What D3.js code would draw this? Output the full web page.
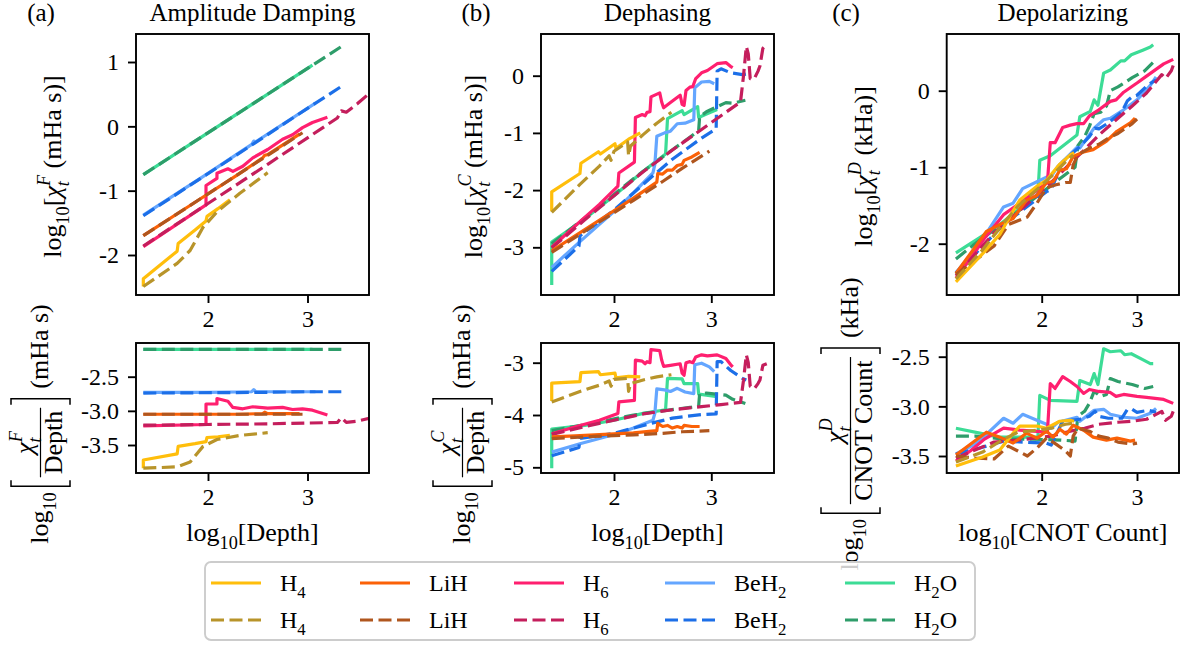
<!DOCTYPE html>
<html>
<head>
<meta charset="utf-8">
<script src="https://cdn.jsdelivr.net/npm/d3@7"></script>
<style>
  html, body { margin: 0; padding: 0; background: #fff; }
  #chart text { white-space: pre; fill: #000; }
</style>
</head>
<body>
<svg id="chart" width="1186" height="645" font-family="'Liberation Serif', 'DejaVu Serif', serif"></svg>
<script>
// ---------- series definitions ----------
const molecules = ["H4", "LiH", "H6", "BeH2", "H2O"];
const moleculeParts = [
  [{t: "H"}, {t: "4", k: "sub"}],
  [{t: "LiH"}],
  [{t: "H"}, {t: "6", k: "sub"}],
  [{t: "BeH"}, {t: "2", k: "sub"}],
  [{t: "H"}, {t: "2", k: "sub"}, {t: "O"}]
];
const solidColors  = ["#FFBE0B", "#FB6107", "#FF1F6F", "#64A6FF", "#3CDC96"];
const dashedColors = ["#B8942A", "#B0561E", "#C41E5C", "#1C6FE8", "#2E9D6A"];

// Values are [log10(depth or CNOT count), log10(chi_t / count)].
// Upper panels show log10(chi_t) = per-count value + log10(count).

// (a) Amplitude damping
const ampSolid = {
  H4:   [[1.35,-3.84],[1.35,-3.72],[1.69,-3.63],[1.7,-3.52],[1.87,-3.48],[1.98,-3.45],[1.99,-3.39],[2.1,-3.38],[2.22,-3.36]],
  LiH:  [[1.35,-3.05],[1.8,-3.05],[2.3,-3.05],[2.55,-3.04],[2.57,-3.02],[2.6,-3.04],[2.92,-3.04]],
  H6:   [[1.35,-3.22],[1.98,-3.2],[1.98,-2.9],[2.09,-2.9],[2.09,-2.82],[2.2,-2.86],[2.25,-2.95],[2.35,-2.97],[2.45,-2.94],[2.6,-2.96],[2.75,-2.95],[2.85,-2.98],[2.95,-2.97],[3.05,-2.99],[3.2,-3.06]],
  BeH2: [[1.35,-2.73],[2.0,-2.73],[2.44,-2.72],[2.46,-2.69],[2.48,-2.72],[3.08,-2.72]],
  H2O:  [[1.35,-2.1],[2.5,-2.1],[3.05,-2.1]]
};
const ampDashed = {
  H4:   [[1.35,-3.84],[1.69,-3.82],[1.82,-3.75],[1.95,-3.52],[2.09,-3.42],[2.32,-3.36],[2.6,-3.32]],
  LiH:  [[1.35,-3.05],[2.0,-3.05],[2.5,-3.05],[2.95,-3.05]],
  H6:   [[1.35,-3.21],[2.0,-3.2],[2.6,-3.19],[3.3,-3.17],[3.34,-3.1],[3.39,-3.17],[3.5,-3.15],[3.62,-3.11]],
  BeH2: [[1.35,-2.74],[2.5,-2.73],[3.0,-2.72],[3.36,-2.72]],
  H2O:  [[1.35,-2.1],[2.5,-2.1],[3.0,-2.1],[3.36,-2.1]]
};

// (b) Dephasing
const dephSolid = {
  H4:   [[1.36,-3.73],[1.36,-3.39],[1.65,-3.36],[1.66,-3.19],[1.84,-3.17],[1.86,-3.23],[2.01,-3.2],[2.02,-3.29],[2.15,-3.26],[2.27,-3.27]],
  LiH:  [[1.36,-4.42],[1.6,-4.4],[1.9,-4.37],[2.2,-4.34],[2.44,-4.3],[2.45,-4.16],[2.5,-4.22],[2.55,-4.2],[2.6,-4.25],[2.65,-4.22],[2.7,-4.25],[2.72,-4.2],[2.8,-4.22],[2.88,-4.22]],
  H6:   [[1.36,-4.36],[1.65,-4.2],[1.85,-4.1],[2.04,-3.97],[2.05,-3.75],[2.21,-3.72],[2.22,-2.95],[2.29,-2.97],[2.32,-3.02],[2.34,-2.98],[2.37,-3.0],[2.38,-2.75],[2.47,-2.77],[2.49,-2.95],[2.51,-3.07],[2.58,-3.05],[2.68,-3.02],[2.7,-3.2],[2.72,-3.24],[2.74,-3.0],[2.78,-2.98],[2.81,-3.0],[2.84,-2.89],[2.9,-2.85],[2.96,-2.87],[3.06,-2.85],[3.15,-2.92],[3.2,-3.04],[3.22,-3.08]],
  BeH2: [[1.36,-4.71],[1.65,-4.55],[1.85,-4.45],[2.05,-4.35],[2.2,-4.25],[2.4,-4.1],[2.42,-3.97],[2.44,-3.5],[2.52,-3.52],[2.58,-3.55],[2.65,-3.49],[2.73,-3.56],[2.82,-3.59],[2.83,-3.04],[2.9,-3.01],[2.98,-3.08],[3.03,-3.17]],
  H2O:  [[1.36,-5.02],[1.36,-4.27],[1.7,-4.2],[2.0,-4.1],[2.3,-3.97],[2.53,-3.9],[2.55,-3.3],[2.7,-3.31],[2.72,-3.4],[2.86,-3.4],[2.87,-3.6],[2.95,-3.62],[3.06,-3.65]]
};
const dephDashed = {
  H4:   [[1.36,-3.75],[1.65,-3.55],[1.85,-3.43],[1.95,-3.35],[1.97,-3.45],[2.0,-3.32],[2.14,-3.3],[2.15,-3.55],[2.17,-3.4],[2.3,-3.33],[2.44,-3.27],[2.59,-3.23]],
  LiH:  [[1.36,-4.45],[1.8,-4.41],[2.2,-4.38],[2.5,-4.35],[2.7,-4.32],[2.98,-4.3]],
  H6:   [[1.36,-4.37],[1.7,-4.22],[2.0,-4.1],[2.3,-3.98],[2.6,-3.9],[2.9,-3.84],[3.1,-3.8],[3.3,-3.76],[3.33,-3.35],[3.36,-2.85],[3.38,-3.0],[3.4,-3.45],[3.44,-3.5],[3.48,-3.4],[3.5,-3.33],[3.53,-3.05],[3.57,-3.02]],
  BeH2: [[1.36,-4.78],[1.64,-4.62],[1.65,-4.45],[2.0,-4.35],[2.4,-4.15],[2.6,-4.06],[2.9,-3.99],[3.05,-3.98],[3.06,-2.98],[3.1,-2.98],[3.2,-3.15],[3.32,-3.3],[3.36,-3.33]],
  H2O:  [[1.36,-4.3],[1.8,-4.15],[2.2,-4.0],[2.5,-3.92],[2.8,-3.85],[2.87,-3.83],[2.88,-3.6],[2.95,-3.58],[3.05,-3.6],[3.15,-3.62],[3.22,-3.7],[3.35,-3.78]]
};

// (c) Depolarizing
const depoSolid = {
  H4:   [[1.1,-3.6],[1.38,-3.51],[1.56,-3.44],[1.7,-3.27],[1.77,-3.2],[1.96,-3.2],[2.05,-3.22],[2.19,-3.15],[2.3,-3.14],[2.34,-3.15]],
  LiH:  [[1.1,-3.49],[1.42,-3.26],[1.56,-3.31],[1.7,-3.37],[1.84,-3.27],[1.95,-3.32],[2.05,-3.25],[2.12,-3.31],[2.19,-3.23],[2.26,-3.28],[2.33,-3.19],[2.44,-3.24],[2.54,-3.31],[2.68,-3.34],[2.79,-3.32],[2.93,-3.35],[2.98,-3.34]],
  H6:   [[1.1,-3.55],[1.25,-3.45],[1.4,-3.33],[1.6,-3.22],[1.77,-3.24],[2.06,-3.26],[2.09,-2.77],[2.14,-2.82],[2.22,-2.7],[2.3,-2.75],[2.37,-2.8],[2.44,-2.87],[2.5,-2.83],[2.6,-2.85],[2.72,-2.86],[2.78,-2.9],[2.86,-2.88],[3.0,-2.9],[3.1,-2.91],[3.28,-2.93],[3.38,-2.97]],
  BeH2: [[1.1,-3.48],[1.3,-3.38],[1.4,-3.3],[1.6,-3.12],[1.7,-3.17],[1.8,-3.08],[1.95,-3.14],[2.05,-3.18],[2.1,-3.22],[2.17,-3.16],[2.37,-3.11],[2.4,-3.15],[2.55,-3.04],[2.65,-3.03],[2.72,-3.08],[2.86,-3.11],[3.0,-3.12],[3.14,-3.07],[3.2,-3.02]],
  H2O:  [[1.1,-3.22],[1.35,-3.27],[1.55,-3.31],[1.96,-3.31],[1.98,-2.89],[2.09,-2.94],[2.37,-2.95],[2.4,-2.74],[2.51,-2.78],[2.55,-2.67],[2.59,-2.78],[2.65,-2.42],[2.72,-2.45],[2.83,-2.44],[2.87,-2.48],[2.94,-2.47],[3.06,-2.53],[3.14,-2.57],[3.17,-2.57]]
};
const depoDashed = {
  H4:   [[1.1,-3.56],[1.38,-3.46],[1.6,-3.33],[1.75,-3.26],[1.96,-3.24],[2.1,-3.22],[2.25,-3.18],[2.33,-3.17]],
  LiH:  [[1.1,-3.5],[1.3,-3.52],[1.5,-3.53],[1.65,-3.4],[1.75,-3.45],[1.85,-3.5],[1.95,-3.42],[2.05,-3.32],[2.15,-3.38],[2.25,-3.45],[2.3,-3.5],[2.33,-3.3],[2.38,-3.22],[2.5,-3.25],[2.6,-3.3],[2.7,-3.32],[2.8,-3.36],[2.95,-3.38],[3.0,-3.37]],
  H6:   [[1.1,-3.52],[1.3,-3.44],[1.5,-3.36],[1.75,-3.34],[2.1,-3.3],[2.3,-3.25],[2.45,-3.22],[2.6,-3.18],[2.8,-3.16],[2.95,-3.15],[3.1,-3.13],[3.2,-3.08],[3.26,-3.05],[3.3,-3.14],[3.36,-3.1],[3.38,-3.05]],
  BeH2: [[1.1,-3.48],[1.35,-3.42],[1.6,-3.35],[1.8,-3.36],[2.05,-3.37],[2.1,-3.39],[2.17,-3.25],[2.22,-3.15],[2.4,-3.13],[2.5,-3.1],[2.56,-3.05],[2.6,-3.1],[2.7,-3.12],[2.84,-3.12],[2.9,-3.03],[2.95,-3.03],[3.0,-3.06],[3.12,-3.04],[3.2,-3.06]],
  H2O:  [[1.1,-3.3],[1.3,-3.3],[1.6,-3.33],[1.9,-3.33],[2.2,-3.34],[2.35,-3.35],[2.38,-3.1],[2.45,-3.05],[2.5,-2.97],[2.55,-2.85],[2.62,-2.9],[2.68,-2.88],[2.72,-2.72],[2.8,-2.75],[2.95,-2.78],[3.08,-2.82],[3.17,-2.8]]
};

// ---------- ticks ----------
const xTicks = [2, 3];
const xTickLabels = ["2", "3"];
const ampUpperTicks = [1, 0, -1, -2];
const ampUpperLabels = ["1", "0", "-1", "-2"];
const ampLowerTicks = [-2.5, -3.0, -3.5];
const ampLowerLabels = ["-2.5", "-3.0", "-3.5"];
const dephUpperTicks = [0, -1, -2, -3];
const dephUpperLabels = ["0", "-1", "-2", "-3"];
const dephLowerTicks = [-3, -4, -5];
const dephLowerLabels = ["-3", "-4", "-5"];
const depoUpperTicks = [0, -1, -2];
const depoUpperLabels = ["0", "-1", "-2"];
const depoLowerTicks = [-2.5, -3.0, -3.5];
const depoLowerLabels = ["-2.5", "-3.0", "-3.5"];

// ---------- layout ----------
const FONT = "'Liberation Serif', 'DejaVu Serif', serif";
const FS = 24;      // tick labels, legend
const TFS = 25;     // titles
const LFS = 26;     // axis labels
const UP = [34, 295], LOW = [343, 473];
const svg = d3.select("#chart");

function txt(parent, size) {
  return parent.append("text").attr("font-family", FONT).attr("font-size", size || FS);
}

function addParts(text, parts, size) {
  let shift = 0;
  parts.forEach(p => {
    const span = text.append("tspan").text(p.t);
    let target = 0, fs = size;
    if (p.k === "sub") { target = 0.3 * size; fs = 0.7 * size; }
    if (p.k === "sup") { target = -0.42 * size; fs = 0.7 * size; }
    span.attr("font-size", fs).attr("dy", target - shift);
    if (p.i) span.attr("font-style", "italic");
    if (p.dx) span.attr("dx", p.dx * size);
    shift = target;
  });
  return text;
}

const chiParts = sym => [{t: "χ", i: 1}, {t: "t", k: "sub", i: 1}, {t: sym, k: "sup", i: 1, dx: -0.19}];
const logParts = [{t: "log"}, {t: "10", k: "sub"}];

function fitScale(ref, r0, r1) {
  const s = d3.scaleLinear().domain([ref[0][0], ref[1][0]]).range([ref[0][1], ref[1][1]]);
  return d3.scaleLinear().domain([s.invert(r0), s.invert(r1)]).range([r0, r1]);
}

const panels = [
  { tag: "(a)", tagX: 41, title: "Amplitude Damping", left: 136, right: 369,
    xRef: [[2, 208], [3, 307.5]], upRef: [[1, 62], [-2, 255]], lowRef: [[-2.5, 376.7], [-3.5, 445]],
    upTicks: ampUpperTicks, upLabels: ampUpperLabels, lowTicks: ampLowerTicks, lowLabels: ampLowerLabels,
    solid: ampSolid, dashed: ampDashed, sym: "F", unit: "mHa s", den: "Depth", xName: "Depth",
    upLabelX: 61, lowLabelX: 48 },
  { tag: "(b)", tagX: 476, title: "Dephasing", left: 541, right: 774,
    xRef: [[2, 614], [3, 711.3]], upRef: [[0, 75.7], [-3, 247.3]], lowRef: [[-3, 362.7], [-5, 467.3]],
    upTicks: dephUpperTicks, upLabels: dephUpperLabels, lowTicks: dephLowerTicks, lowLabels: dephLowerLabels,
    solid: dephSolid, dashed: dephDashed, sym: "C", unit: "mHa s", den: "Depth", xName: "Depth",
    upLabelX: 482, lowLabelX: 470 },
  { tag: "(c)", tagX: 846, title: "Depolarizing", left: 946.7, right: 1179,
    xRef: [[2, 1041.7], [3, 1137]], upRef: [[0, 90.7], [-2, 243.7]], lowRef: [[-2.5, 356.7], [-3.5, 456]],
    upTicks: depoUpperTicks, upLabels: depoUpperLabels, lowTicks: depoLowerTicks, lowLabels: depoLowerLabels,
    solid: depoSolid, dashed: depoDashed, sym: "D", unit: "kHa", den: "CNOT Count", xName: "CNOT Count",
    upLabelX: 872, lowLabelX: 858 }
];

function styleAxis(g) {
  g.select(".domain").remove();
  g.attr("font-family", FONT).attr("font-size", FS);
  g.selectAll(".tick line").attr("stroke", "#000").attr("stroke-width", 1.9);
  g.selectAll(".tick text").attr("font-family", FONT).attr("font-size", FS);
}

function drawBox(p, pi, yr, ref, ticks, labels, valueOf, withXLabel) {
  const sx = fitScale(p.xRef, p.left, p.right);
  const sy = fitScale(ref, yr[1], yr[0]);
  const g = svg.append("g");
  const clipId = `clip-${pi}-${yr[0]}`;
  svg.append("clipPath").attr("id", clipId).append("rect")
    .attr("x", p.left).attr("y", yr[0]).attr("width", p.right - p.left).attr("height", yr[1] - yr[0]);

  const lines = g.append("g").attr("clip-path", `url(#${clipId})`);
  const line = d3.line().x(d => sx(d[0])).y(d => sy(valueOf(d)));
  // later series sit underneath earlier ones; each dashed trace sits over its solid twin
  for (let i = molecules.length - 1; i >= 0; i--) {
    const m = molecules[i];
    lines.append("path").datum(p.solid[m]).attr("d", line)
      .attr("fill", "none").attr("stroke", solidColors[i]).attr("stroke-width", 3.2)
      .attr("stroke-linejoin", "round");
    lines.append("path").datum(p.dashed[m]).attr("d", line)
      .attr("fill", "none").attr("stroke", dashedColors[i]).attr("stroke-width", 3.2)
      .attr("stroke-dasharray", "13,5.5").attr("stroke-linejoin", "round");
  }

  g.append("g").attr("transform", `translate(0,${yr[1]})`)
    .call(d3.axisBottom(sx).tickValues(xTicks).tickFormat((d, i) => xTickLabels[i]).tickSize(8).tickPadding(7))
    .call(styleAxis);
  g.append("g").attr("transform", `translate(${p.left},0)`)
    .call(d3.axisLeft(sy).tickValues(ticks).tickFormat((d, i) => labels[i]).tickSize(8).tickPadding(9))
    .call(styleAxis);

  g.append("rect").attr("x", p.left).attr("y", yr[0])
    .attr("width", p.right - p.left).attr("height", yr[1] - yr[0])
    .attr("fill", "none").attr("stroke", "#000").attr("stroke-width", 1.9);

  if (withXLabel) {
    const t = txt(svg, LFS).attr("x", (p.left + p.right) / 2).attr("y", 541).attr("text-anchor", "middle");
    addParts(t, [...logParts, {t: "[" + p.xName + "]"}], LFS);
  }
}

function rotatedSimple(xb, cy, parts) {
  const t = txt(svg, LFS).attr("transform", `translate(${xb},${cy}) rotate(-90)`).attr("text-anchor", "middle");
  addParts(t, parts, LFS);
}

function rotatedFraction(xb, cy, num, den, tail) {
  const g = svg.append("g").attr("transform", `translate(${xb},${cy}) rotate(-90)`);
  const inner = g.append("g");
  const addText = (parts, px, py, anchor) => {
    const t = txt(inner, LFS).attr("x", px).attr("y", py).attr("text-anchor", anchor || "start");
    addParts(t, parts, LFS);
    return t;
  };
  const head = addText(logParts, 0, 0);
  let bb = head.node().getBBox();
  let x = bb.x + bb.width + 6;
  const bTop = -37, bBot = 22, serif = 6;
  inner.append("path").attr("d", `M${x + serif},${bTop}H${x}V${bBot}H${x + serif}`)
    .attr("fill", "none").attr("stroke", "#000").attr("stroke-width", 1.5);
  x += 9;
  const n = addText(num, 0, -15, "middle");
  const d = addText(den, 0, 14, "middle");
  const w = Math.max(n.node().getBBox().width, d.node().getBBox().width) + 6;
  n.attr("x", x + w / 2);
  d.attr("x", x + w / 2);
  inner.append("line").attr("x1", x).attr("x2", x + w).attr("y1", -7.5).attr("y2", -7.5)
    .attr("stroke", "#000").attr("stroke-width", 1.2);
  x += w + 3;
  inner.append("path").attr("d", `M${x},${bTop}H${x + serif}V${bBot}H${x}`)
    .attr("fill", "none").attr("stroke", "#000").attr("stroke-width", 1.5);
  x += serif + 10;
  const tail_ = addText(tail, x, 0);
  bb = tail_.node().getBBox();
  x = bb.x + bb.width;
  inner.attr("transform", `translate(${-x / 2},0)`);
}

panels.forEach((p, pi) => {
  drawBox(p, pi, UP, p.upRef, p.upTicks, p.upLabels, d => d[1] + d[0], false);
  drawBox(p, pi, LOW, p.lowRef, p.lowTicks, p.lowLabels, d => d[1], true);

  txt(svg, TFS).attr("x", p.tagX).attr("y", 21).attr("text-anchor", "middle").text(p.tag);
  txt(svg, TFS).attr("x", (p.left + p.right) / 2).attr("y", 21).attr("text-anchor", "middle").text(p.title);

  rotatedSimple(p.upLabelX, (UP[0] + UP[1]) / 2 + 2,
    [...logParts, {t: "["}, ...chiParts(p.sym), {t: " (" + p.unit + ")]"}]);
  rotatedFraction(p.lowLabelX, (LOW[0] + LOW[1]) / 2 + 16,
    chiParts(p.sym), [{t: p.den}], [{t: "(" + p.unit + ")"}]);
});

// ---------- legend ----------
const legend = svg.append("g");
legend.append("rect").attr("x", 205).attr("y", 562).attr("width", 770).attr("height", 78)
  .attr("rx", 6).attr("fill", "#fff").attr("fill-opacity", 0.8)
  .attr("stroke", "#cccccc").attr("stroke-width", 1.9);
const legendCols = [211, 360, 514, 665, 845];
const legendRows = [583, 620];
molecules.forEach((m, i) => {
  [0, 1].forEach(r => {
    const x0 = legendCols[i], y = legendRows[r];
    legend.append("line").attr("x1", x0).attr("x2", x0 + 50).attr("y1", y).attr("y2", y)
      .attr("stroke", r === 0 ? solidColors[i] : dashedColors[i]).attr("stroke-width", 3.2)
      .attr("stroke-dasharray", r === 0 ? null : "13,5.5");
    const t = txt(legend, FS).attr("x", x0 + 69).attr("y", y + 8);
    addParts(t, moleculeParts[i], FS);
  });
});
</script>
</body>
</html>
